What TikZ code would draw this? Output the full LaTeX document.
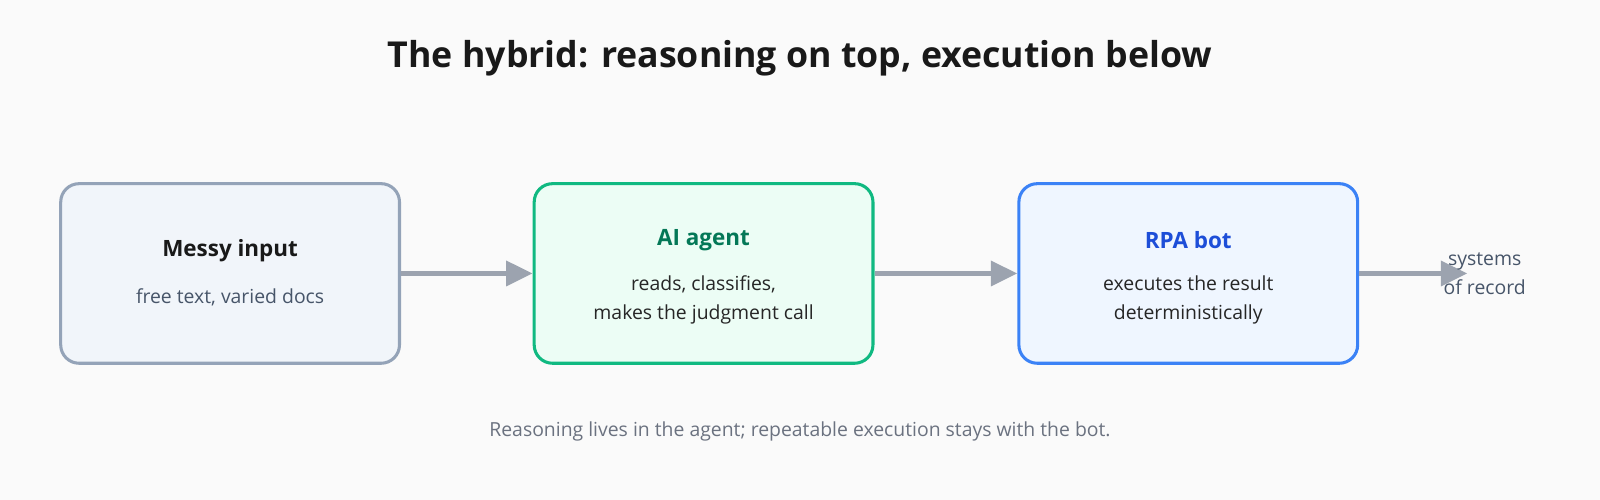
\documentclass[tikz,border=0pt]{standalone}
\usepackage{fontspec}
\setmainfont{Open Sans}
\usetikzlibrary{arrows.meta}
\definecolor{bg}{HTML}{FAFAFA}
\definecolor{mfill}{HTML}{F1F5FA}\definecolor{mdraw}{HTML}{94A3B8}
\definecolor{afill}{HTML}{ECFDF5}\definecolor{adraw}{HTML}{10B981}\definecolor{atext}{HTML}{047857}
\definecolor{rfill}{HTML}{EFF6FF}\definecolor{rdraw}{HTML}{3B82F6}\definecolor{rtext}{HTML}{1D4ED8}
\definecolor{arr}{HTML}{9CA3AF}\definecolor{sub}{HTML}{475569}\definecolor{cap}{HTML}{6B7280}
\begin{document}
\begin{tikzpicture}[x=0.5pt,y=-0.5pt,
 box/.style={rounded corners=9pt,line width=1.5pt,minimum width=166pt,minimum height=88pt},
 conn/.style={draw=arr,line width=2.5pt,-{Triangle[length=13pt,width=12pt]}},
 sublbl/.style={font=\fontsize{9.5}{14}\selectfont,align=center}]
\fill[bg] (0,0) rectangle (1568,490);
\useasboundingbox (0,0) rectangle (1568,490);
\node[font=\fontsize{17.5}{20}\selectfont\bfseries,text=black!90] (title) at (784,57) {The hybrid: reasoning on top, execution below};
\node[box,draw=mdraw,fill=mfill] (m) at (225.5,268) {};
\node[box,draw=adraw,fill=afill] (a) at (689.5,268) {};
\node[box,draw=rdraw,fill=rfill] (r) at (1164.5,268) {};
\node[font=\fontsize{11}{13}\selectfont\bfseries,text=black!90] (mt) at (225.5,246) {Messy input};
\node[sublbl,text=sub] (ms) at (225.5,291) {free text, varied docs};
\node[font=\fontsize{11}{13}\selectfont\bfseries,text=atext] (at) at (689.5,235) {AI agent};
\node[sublbl,text=black!85] (as) at (689.5,294) {reads, classifies,\\makes the judgment call};
\node[font=\fontsize{11}{13}\selectfont\bfseries,text=rtext] (rt) at (1164.5,235) {RPA bot};
\node[sublbl,text=black!85] (rs) at (1164.5,294) {executes the result\\deterministically};
\coordinate (end) at (1438,268);
\draw[conn] (m) -- (a);
\draw[conn] (a) -- (r);
\draw[conn] (r) -- (end);
\node[sublbl,text=sub] (sys) at (1455,268) {systems\\of record};
\node[font=\fontsize{9.5}{12}\selectfont,text=cap] (caption) at (784,423) {Reasoning lives in the agent; repeatable execution stays with the bot.};
\end{tikzpicture}
\end{document}
